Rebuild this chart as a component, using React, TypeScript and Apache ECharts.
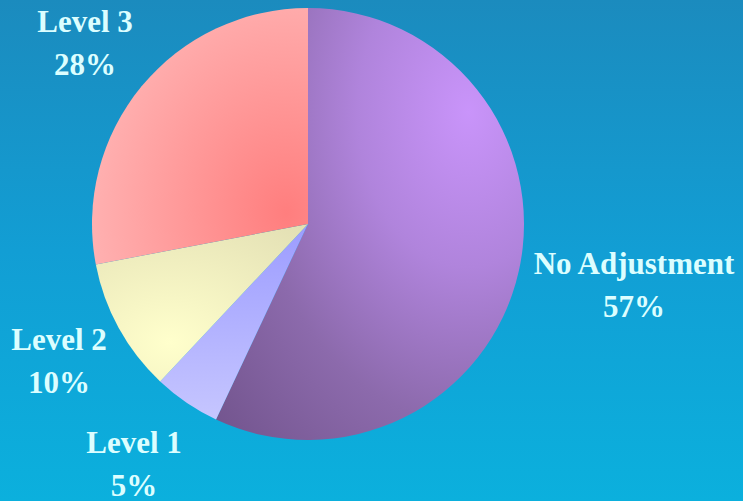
import React, { useEffect, useRef } from "react";
import * as echarts from "echarts";

const categories = ["No Adjustment", "Level 1", "Level 2", "Level 3"];
const shares = [57, 5, 10, 28];
const labelPos: [number, number][] = [
  [634, 285],
  [134, 464],
  [59, 361],
  [85, 43],
];
const sliceFills = [
  { type: "radial", x: 0.82, y: 0.24, r: 1.2, colorStops: [
    { offset: 0, color: "#c994fa" },
    { offset: 0.3, color: "#b084dc" },
    { offset: 0.6, color: "#8c6aac" },
    { offset: 1, color: "#6c4f86" },
  ] },
  { type: "linear", x: 0, y: 0, x2: 0, y2: 1, colorStops: [
    { offset: 0, color: "#9c9cff" },
    { offset: 1, color: "#c6c6ff" },
  ] },
  { type: "radial", x: 0.35, y: 0.75, r: 1.2, colorStops: [
    { offset: 0, color: "#ffffcc" },
    { offset: 1, color: "#dcd8ae" },
  ] },
  { type: "radial", x: 0.9, y: 0.8, r: 1.0, colorStops: [
    { offset: 0, color: "#ff7e7e" },
    { offset: 1, color: "#ffb6b6" },
  ] },
];

export default function App() {
  const ref = useRef<HTMLDivElement>(null);
  useEffect(() => {
    if (!ref.current) return;
    const chart = echarts.init(ref.current, null, { renderer: "svg" });
    chart.setOption({
      animation: false,
      backgroundColor: {
        type: "linear", x: 0, y: 0, x2: 0, y2: 1,
        colorStops: [
          { offset: 0, color: "#1b8bbe" },
          { offset: 0.5, color: "#129ed4" },
          { offset: 1, color: "#0bb0dd" },
        ],
      },
      series: [
        {
          type: "pie",
          center: [308, 224],
          radius: 216,
          startAngle: 90,
          clockwise: true,
          avoidLabelOverlap: false,
          data: categories.map((name, i) => ({
            name,
            value: shares[i],
            itemStyle: { color: sliceFills[i] as any },
          })),
          itemStyle: { borderWidth: 0 },
          label: {
            show: true,
            position: "outside",
            formatter: "{b}\n{c}%",
            color: "#dcfeff",
            fontFamily: "Liberation Serif",
            fontWeight: "bold",
            fontSize: 31,
            lineHeight: 43,
            align: "center",
          },
          labelLine: { show: false },
          labelLayout: (p: any) => ({
            x: labelPos[p.dataIndex][0],
            y: labelPos[p.dataIndex][1],
            align: "center",
            verticalAlign: "middle",
          }),
          emphasis: { disabled: true },
        },
      ],
    });
    return () => chart.dispose();
  }, []);
  return (
    <div
      ref={ref}
      style={{ position: "fixed", left: 0, top: 0, width: 743, height: 501 }}
    />
  );
}
